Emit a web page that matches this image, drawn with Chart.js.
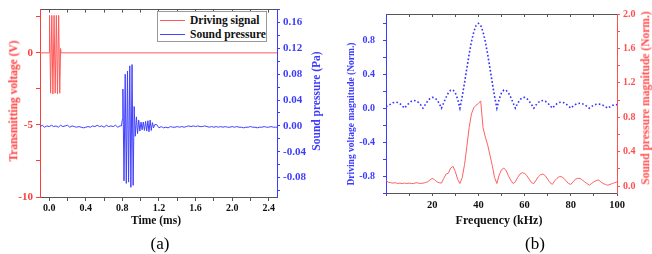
<!DOCTYPE html>
<html>
<head>
<meta charset="utf-8">
<script src="https://cdn.jsdelivr.net/npm/chart.js@4.4.1/dist/chart.umd.min.js"></script>
<style>
  html, body { margin: 0; padding: 0; background: #fff; }
  #wrap { position: relative; width: 652px; height: 254px; overflow: hidden;
          font-family: 'Liberation Serif', 'Times New Roman', serif; }
  canvas { position: absolute; top: 0; }
  .t { position: absolute; white-space: nowrap; font-weight: bold; line-height: 1; }
  .rot { transform: translate(-50%, -50%) rotate(-90deg); }
  .ctr { transform: translate(-50%, -50%); }
  .panel { position: absolute; font-size: 17px; line-height: 1; transform: translate(-50%, -50%); }
  #legendA { position: absolute; left: 157px; top: 11px; width: 110px; height: 31px;
             border: 1px solid #9a9a9a; background: #fff; box-sizing: border-box; }
  #legendA .row { position: absolute; left: 2px; height: 12px; }
  #legendA .sw { position: absolute; left: 0; top: 5px; width: 25px; height: 1px; }
  #legendA .lb { position: absolute; left: 30px; top: -1px; font-size: 11.5px; font-weight: bold; white-space: nowrap; color: #111; }
</style>
</head>
<body>
<div id="wrap">
  <canvas id="chartA" width="330" height="230" style="left:0"></canvas>
  <canvas id="chartB" width="322" height="230" style="left:330px"></canvas>

  <div id="legendA">
    <div class="row" style="top:3px"><div class="sw" style="background:#ff5a5a"></div><div class="lb">Driving signal</div></div>
    <div class="row" style="top:17px"><div class="sw" style="background:#4646ff"></div><div class="lb">Sound pressure</div></div>
  </div>

  <div class="t rot" style="left:14px; top:101px; font-size:11.5px; color:#ff3c3c">Transmitting voltage (V)</div>
  <div class="t rot" style="left:317px; top:101px; font-size:11.5px; color:#3c3cff">Sound pressure (Pa)</div>
  <div class="t ctr" style="left:156px; top:221px; font-size:11.5px; color:#111">Time (ms)</div>
  <div class="panel" style="left:160px; top:243px">(a)</div>

  <div class="t rot" style="left:352px; top:114px; font-size:9.5px; color:#3c3cff">Driving voltage magnitude (Norm.)</div>
  <div class="t rot" style="left:646px; top:98px; font-size:11.5px; color:#ff4d4d">Sound pressure magnitude (Norm.)</div>
  <div class="t ctr" style="left:499px; top:220px; font-size:12px; color:#111">Frequency (kHz)</div>
  <div class="panel" style="left:535px; top:243px">(b)</div>
</div>

<script>
/////////////////////////////
// Data | panel (a)
/////////////////////////////

// Driving signal (V)
const driveTime = [-0.1, 0.000, 0.004, 0.016, 0.029, 0.041, 0.054, 0.066, 0.079, 0.091, 0.104, 0.116, 0.125, 0.130, 2.49];
const driveVolt = [0, 0, 2.6, -2.8, 2.6, -2.85, 2.6, -2.8, 2.6, -2.85, 2.6, -2.8, 0.3, 0, 0];

// Sound pressure (Pa)
const soundTime = [
  -0.1, -0.075, -0.05, -0.025, 0, 0.025, 0.05, 0.075, 0.1, 0.125, 0.15, 0.175,
  0.2, 0.225, 0.25, 0.275, 0.3, 0.325, 0.35, 0.375, 0.4, 0.425, 0.45, 0.475,
  0.5, 0.525, 0.55, 0.575, 0.6, 0.625, 0.65, 0.675, 0.7, 0.725, 0.75, 0.775,
  0.790, 0.800, 0.806, 0.818, 0.831, 0.843, 0.856, 0.868, 0.881, 0.893, 0.906, 0.918,
  0.929, 0.941, 0.954, 0.966, 0.979, 0.991, 1.004, 1.016, 1.029, 1.041, 1.054, 1.066,
  1.079, 1.091, 1.104, 1.116, 1.129, 1.141, 1.154,
  1.175, 1.2, 1.225, 1.25, 1.275, 1.3, 1.325, 1.35, 1.375, 1.4, 1.425, 1.45, 1.475,
  1.5, 1.525, 1.55, 1.575, 1.6, 1.625, 1.65, 1.675, 1.7, 1.725, 1.75, 1.775,
  1.8, 1.825, 1.85, 1.875, 1.9, 1.925, 1.95, 1.975, 2.0, 2.025, 2.05, 2.075,
  2.1, 2.125, 2.15, 2.175, 2.2, 2.225, 2.25, 2.275, 2.3, 2.325, 2.35, 2.375,
  2.4, 2.425, 2.45, 2.475, 2.49
];
const soundPa = [
  -0.001, 0.001, -0.002, 0.000, -0.001, 0.001, -0.001, 0.000, -0.002, 0.001, -0.001, 0.000,
  0.001, -0.002, 0.000, -0.001, -0.002, -0.001, -0.002, -0.003, -0.002, -0.001, -0.002, 0.000,
  -0.001, 0.001, -0.001, 0.000, -0.002, 0.001, -0.001, 0.000, -0.001, 0.001, -0.002, 0.000,
  0.000, 0.010, 0.057, -0.085, 0.080, -0.089, 0.085, -0.087, 0.093, -0.095, 0.095, -0.092,
  0.030, -0.016, 0.014, -0.012, 0.009, -0.008, 0.006, -0.006, 0.006, -0.007, 0.007, -0.008,
  0.008, -0.009, 0.009, -0.007, 0.005, -0.003, 0.002,
  0.002, -0.003, -0.001, -0.003, -0.002, -0.003, -0.001, -0.002, -0.002, -0.001, -0.002, -0.001, -0.002,
  -0.001, 0.000, -0.001, 0.000, -0.001, 0.000, -0.001, -0.001, 0.000, -0.001, -0.002, -0.001,
  -0.002, -0.001, -0.002, -0.001, -0.002, -0.001, -0.002, -0.002, -0.001, -0.002, -0.001, -0.002,
  -0.002, -0.003, -0.002, -0.002, -0.001, -0.002, -0.002, -0.003, -0.002, -0.002, -0.001, -0.002,
  -0.002, -0.001, -0.002, -0.002, -0.002
];

/////////////////////////////
// Data | panel (b)
/////////////////////////////

const freqKHz = [
  0, 1, 2, 3, 4, 5, 6, 7, 8, 9, 10, 11, 12, 13, 14, 15, 16, 17, 18, 19,
  20, 21, 22, 23, 24, 25, 26, 27, 28, 29, 30, 31, 32, 33, 34, 35, 36, 37, 38, 39,
  40, 41, 42, 43, 44, 45, 46, 47, 48, 49, 50, 51, 52, 53, 54, 55, 56, 57, 58, 59,
  60, 61, 62, 63, 64, 65, 66, 67, 68, 69, 70, 71, 72, 73, 74, 75, 76, 77, 78, 79,
  80, 81, 82, 83, 84, 85, 86, 87, 88, 89, 90, 91, 92, 93, 94, 95, 96, 97, 98, 99, 100
];
// Driving voltage magnitude (left axis)
const driveMag = [
  0.02, 0.030, 0.047, 0.064, 0.071, 0.067, 0.053, 0.030, 0.0, 0.031,
  0.060, 0.081, 0.091, 0.087, 0.069, 0.039, 0.0, 0.042, 0.082, 0.112,
  0.127, 0.124, 0.100, 0.057, 0.0, 0.065, 0.129, 0.181, 0.212, 0.214,
  0.180, 0.108, 0.0, 0.139, 0.300, 0.471, 0.637, 0.784, 0.900, 0.974,
  1.0, 0.974, 0.900, 0.784, 0.637, 0.471, 0.300, 0.139, 0.0, 0.108,
  0.180, 0.214, 0.212, 0.181, 0.129, 0.065, 0.0, 0.057, 0.100, 0.124,
  0.127, 0.112, 0.082, 0.042, 0.0, 0.039, 0.069, 0.087, 0.091, 0.081,
  0.060, 0.031, 0.0, 0.030, 0.053, 0.067, 0.071, 0.064, 0.047, 0.025,
  0.0, 0.024, 0.043, 0.055, 0.058, 0.052, 0.039, 0.021, 0.0, 0.020,
  0.036, 0.046, 0.049, 0.044, 0.033, 0.018, 0.0, 0.017, 0.031, 0.040, 0.042
];
// Sound pressure magnitude (right axis)
const soundMag = [
  0.065, 0.045, 0.04, 0.035, 0.04, 0.03, 0.035, 0.03, 0.035, 0.03,
  0.035, 0.03, 0.03, 0.04, 0.035, 0.03, 0.035, 0.04, 0.05, 0.07,
  0.09, 0.075, 0.05, 0.04, 0.035, 0.09, 0.14, 0.15, 0.21, 0.23,
  0.17, 0.08, 0.03, 0.10, 0.25, 0.46, 0.68, 0.84, 0.91, 0.94,
  0.96, 0.99, 0.68, 0.57, 0.48, 0.36, 0.24, 0.10, 0.03, 0.13,
  0.19, 0.21, 0.18, 0.12, 0.07, 0.03, 0.05, 0.10, 0.14, 0.155,
  0.15, 0.12, 0.08, 0.04, 0.03, 0.07, 0.11, 0.135, 0.14, 0.12,
  0.08, 0.04, 0.02, 0.06, 0.09, 0.11, 0.11, 0.09, 0.06, 0.03,
  0.02, 0.05, 0.08, 0.09, 0.09, 0.07, 0.05, 0.03, 0.01, 0.03,
  0.05, 0.065, 0.07, 0.05, 0.03, 0.02, 0.01, 0.02, 0.03, 0.04, 0.05
];

/////////////////////////////
// Helpers
/////////////////////////////

const SERIF = "'Liberation Serif', 'Times New Roman', serif";
const RED = '#ff3c3c';
const BLUE = '#3c3cff';
const GREY = '#555';

const pts = (xs, ys) => xs.map((x, i) => ({ x: x, y: ys[i] }));
const fixWidth = w => scale => { scale.width = w; };
const fixHeight = h => scale => { scale.height = h; };
const bold = size => ({ family: SERIF, size: size, weight: 'bold' });
const every = (n, digits) => v => (Math.abs(Math.round(v / n * 1000)) % 1000 === 0 ? v.toFixed(digits) : '');

Chart.defaults.font.family = SERIF;

/////////////////////////////
// Chart | panel (a)
/////////////////////////////

new Chart(document.getElementById('chartA'), {
  type: 'line',
  data: {
    datasets: [
      { label: 'Driving signal', data: pts(driveTime, driveVolt), yAxisID: 'y',
        borderColor: '#ff5a5a', borderWidth: 1, pointRadius: 0, tension: 0 },
      { label: 'Sound pressure', data: pts(soundTime, soundPa), yAxisID: 'y2',
        borderColor: '#4040ff', borderWidth: 1, pointRadius: 0, tension: 0 }
    ]
  },
  options: {
    responsive: false, animation: false, devicePixelRatio: 1,
    layout: { padding: 0 },
    plugins: { legend: { display: false }, tooltip: { enabled: false } },
    scales: {
      x: {
        type: 'linear', position: 'bottom', min: -0.1, max: 2.49,
        ticks: { stepSize: 0.2, autoSkip: false, includeBounds: false, maxRotation: 0,
                 padding: 1, color: '#111', font: bold(10), callback: every(0.4, 1) },
        grid: { drawOnChartArea: false, tickLength: 4, color: GREY },
        border: { color: GREY },
        afterFit: fixHeight(33)
      },
      xTop: {
        type: 'linear', position: 'top', min: -0.1, max: 2.49,
        ticks: { stepSize: 0.2, display: false, includeBounds: false, autoSkip: false },
        grid: { drawOnChartArea: false, tickLength: -3, color: GREY },
        border: { color: GREY },
        afterFit: fixHeight(5)
      },
      y: {
        type: 'linear', position: 'left', min: -10, max: 3,
        ticks: { stepSize: 2.5, autoSkip: false, includeBounds: false, padding: 3,
                 color: RED, font: bold(11), callback: v => (v % 5 === 0 ? String(v) : '') },
        grid: { drawOnChartArea: false, tickLength: 4, color: RED },
        border: { color: RED },
        afterFit: fixWidth(40)
      },
      y2: {
        type: 'linear', position: 'right', min: -0.11, max: 0.18,
        ticks: { stepSize: 0.02, autoSkip: false, includeBounds: false, padding: 3,
                 color: BLUE, font: bold(11), callback: every(0.04, 2) },
        grid: { drawOnChartArea: false, tickLength: 3, color: BLUE },
        border: { color: BLUE },
        afterFit: fixWidth(53)
      }
    }
  }
});

/////////////////////////////
// Chart | panel (b)
/////////////////////////////

new Chart(document.getElementById('chartB'), {
  type: 'line',
  data: {
    datasets: [
      { label: 'Driving voltage magnitude', data: pts(freqKHz, driveMag), yAxisID: 'y',
        borderColor: '#3333ff', borderWidth: 1.6, borderDash: [1.6, 2.2], pointRadius: 0, tension: 0 },
      { label: 'Sound pressure magnitude', data: pts(freqKHz, soundMag), yAxisID: 'y2',
        borderColor: '#ff6060', borderWidth: 1, pointRadius: 0, tension: 0 }
    ]
  },
  options: {
    responsive: false, animation: false, devicePixelRatio: 1,
    layout: { padding: 0 },
    plugins: { legend: { display: false }, tooltip: { enabled: false } },
    scales: {
      x: {
        type: 'linear', position: 'bottom', min: 0, max: 100,
        ticks: { stepSize: 10, autoSkip: false, includeBounds: false, maxRotation: 0,
                 padding: 3, color: '#111', font: bold(10.5),
                 callback: v => (v % 20 === 0 && v !== 0 ? String(v) : '') },
        grid: { drawOnChartArea: false, tickLength: 3, color: GREY },
        border: { color: GREY },
        afterFit: fixHeight(37)
      },
      xTop: {
        type: 'linear', position: 'top', min: 0, max: 100,
        ticks: { stepSize: 10, display: false, includeBounds: false, autoSkip: false },
        grid: { drawOnChartArea: false, tickLength: -3, color: GREY },
        border: { color: GREY },
        afterFit: fixHeight(7)
      },
      y: {
        type: 'linear', position: 'left', min: -1.0, max: 1.11,
        ticks: { stepSize: 0.2, autoSkip: false, includeBounds: false, padding: 8,
                 color: BLUE, font: bold(10), callback: every(0.4, 1) },
        grid: { drawOnChartArea: false, tickLength: 3, color: BLUE },
        border: { color: BLUE },
        afterFit: fixWidth(56)
      },
      y2: {
        type: 'linear', position: 'right', min: -0.08, max: 2.0,
        ticks: { stepSize: 0.2, autoSkip: false, includeBounds: false, padding: 3,
                 color: '#ff5050', font: bold(10), callback: every(0.4, 1) },
        grid: { drawOnChartArea: false, tickLength: 3, color: '#ff5050' },
        border: { color: '#ff5050' },
        afterFit: fixWidth(35)
      }
    }
  }
});
</script>
</body>
</html>
